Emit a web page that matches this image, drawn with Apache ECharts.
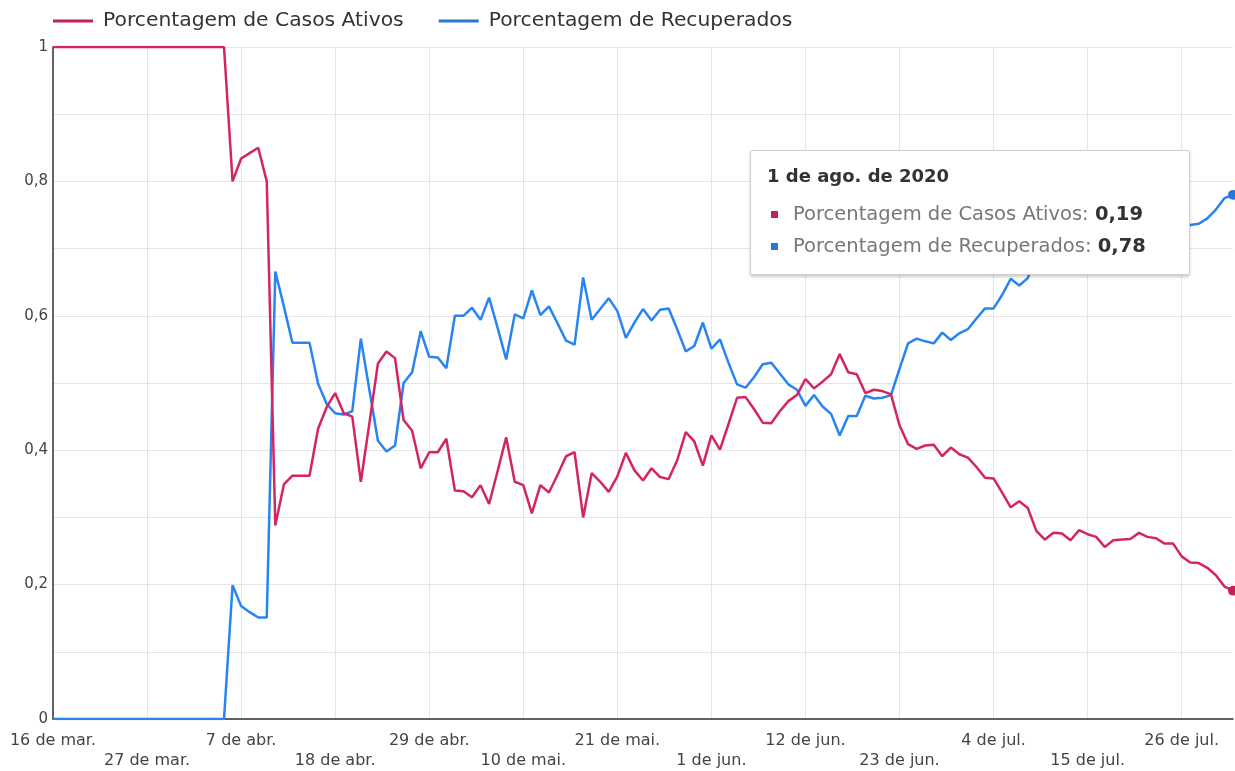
<!DOCTYPE html>
<html>
<head>
<meta charset="utf-8">
<script src="https://cdn.jsdelivr.net/npm/echarts@6/dist/echarts.min.js"></script>
<style>
  html, body { margin: 0; padding: 0; background: #fff; }
  #chart { width: 1235px; height: 771px; }
</style>
</head>
<body>
<div id="chart"></div>
<script>
// categorias: dias de 16 de mar. a 1 de ago. de 2020
const startDay = 16;
const monthNames = ['mar.', 'abr.', 'mai.', 'jun.', 'jul.', 'ago.'];
const monthDays = [31, 30, 31, 30, 31, 31];
const dayCount = 139;

const categories = [];
let m = 0, d = startDay;
for (let i = 0; i < dayCount; i++) {
    categories.push(d + ' de ' + monthNames[m]);
    d++;
    if (d > monthDays[m]) { d = 1; m++; }
}

const seriesNames = ['Porcentagem de Casos Ativos', 'Porcentagem de Recuperados'];
const seriesColors = ['#C2215B', '#2478DC'];

const ativos = [
    1, 1, 1, 1, 1, 1, 1, 1, 1, 1, 1, 1, 1, 1, 1, 1, 1, 1, 1, 1, 1,
    0.80, 0.834, 0.842, 0.85, 0.80, 0.288, 0.349, 0.362, 0.362, 0.362,
    0.432, 0.464, 0.485, 0.455, 0.45, 0.353, 0.44, 0.529, 0.547, 0.537,
    0.445, 0.429, 0.373, 0.397, 0.397, 0.417, 0.340, 0.339, 0.330, 0.348,
    0.320, 0.369, 0.419, 0.353, 0.348, 0.306, 0.348, 0.337, 0.363, 0.391,
    0.397, 0.300, 0.366, 0.353, 0.338, 0.361, 0.396, 0.37,
    0.355, 0.373, 0.360, 0.357, 0.385, 0.427, 0.413, 0.377, 0.422, 0.401,
    0.439, 0.478, 0.479, 0.461, 0.441, 0.440, 0.458, 0.473, 0.482, 0.506,
    0.492, 0.502, 0.513, 0.543, 0.516, 0.513, 0.485, 0.490, 0.488, 0.483, 0.437,
    0.409, 0.402, 0.407, 0.408, 0.391, 0.404, 0.394, 0.389, 0.375, 0.359,
    0.358, 0.337, 0.315, 0.324, 0.314, 0.280, 0.267, 0.277, 0.276, 0.266,
    0.281, 0.275, 0.271, 0.256, 0.266, 0.267, 0.268, 0.277, 0.271, 0.269,
    0.261, 0.261, 0.242, 0.233, 0.232, 0.225, 0.214, 0.197, 0.191
];

const recuperados = [
    0, 0, 0, 0, 0, 0, 0, 0, 0, 0, 0, 0, 0, 0, 0, 0, 0, 0, 0, 0, 0,
    0.199, 0.168, 0.159, 0.151, 0.151, 0.666, 0.614, 0.560, 0.560, 0.560,
    0.499, 0.469, 0.455, 0.453, 0.458, 0.566, 0.49, 0.414, 0.398, 0.407,
    0.50, 0.516, 0.577, 0.539, 0.538, 0.522, 0.600, 0.600, 0.612, 0.594,
    0.627, 0.582, 0.535, 0.602, 0.596, 0.638, 0.601, 0.614, 0.589, 0.563,
    0.557, 0.657, 0.594, 0.610, 0.626, 0.607, 0.567, 0.59,
    0.610, 0.593, 0.609, 0.611, 0.580, 0.547, 0.555, 0.590, 0.551, 0.565,
    0.530, 0.498, 0.493, 0.509, 0.528, 0.530, 0.514, 0.498, 0.490, 0.466,
    0.482, 0.465, 0.454, 0.422, 0.451, 0.451, 0.481, 0.477, 0.478, 0.482, 0.521,
    0.559, 0.566, 0.562, 0.559, 0.575, 0.564, 0.574, 0.580, 0.596, 0.611,
    0.611, 0.631, 0.655, 0.645, 0.656, 0.690, 0.703, 0.693, 0.694, 0.704,
    0.689, 0.695, 0.699, 0.714, 0.704, 0.703, 0.702, 0.693, 0.699, 0.701,
    0.709, 0.709, 0.728, 0.735, 0.737, 0.745, 0.758, 0.775, 0.78
];

const yTicks = [0, 0.2, 0.4, 0.6, 0.8, 1];

const fontFamily = '"DejaVu Sans", "Noto Sans", sans-serif';
const comma = v => String(v).replace('.', ',');

const chartDom = document.getElementById('chart');
const myChart = echarts.init(chartDom);

const option = {
    animation: false,
    textStyle: { fontFamily: fontFamily },
    legend: {
        left: 53,
        top: 11,
        padding: 0,
        icon: 'rect',
        itemWidth: 40,
        itemHeight: 3,
        itemGap: 35,
        textStyle: { fontSize: 20.3, color: '#333', fontFamily: fontFamily, padding: [0, 0, 0, 5] },
        data: seriesNames
    },
    grid: { left: 53, right: 2, top: 47, bottom: 47 },
    tooltip: {
        trigger: 'axis',
        triggerOn: 'none',
        alwaysShowContent: true,
        position: [750, 150],
        axisPointer: { type: 'line', lineStyle: { color: 'rgba(0,0,0,0)' } },
        backgroundColor: '#fff',
        borderColor: '#cfcfcf',
        borderWidth: 1,
        padding: [13, 16, 12, 16],
        extraCssText: 'border-radius:2px;box-shadow:0 2px 3px rgba(0,0,0,0.2);width:406px;',
        formatter: function (params) {
            let html = '<div style="font-family:' + fontFamily.replace(/"/g, "'") + ';">';
            html += '<div style="font-weight:bold;font-size:18px;color:#333;line-height:24px;margin-bottom:10px;">' +
                params[0].axisValue + ' de 2020</div>';
            params.forEach(function (p) {
                html += '<div style="font-size:19.5px;line-height:32px;color:#777;white-space:nowrap;">' +
                    '<span style="display:inline-block;width:7px;height:7px;background:' + p.color +
                    ';margin:0 15px 0 4px;vertical-align:middle;"></span>' +
                    p.seriesName + ': <b style="color:#333;">' + comma(p.value.toFixed(2)) + '</b></div>';
            });
            html += '</div>';
            return html;
        }
    },
    xAxis: {
        type: 'category',
        boundaryGap: false,
        data: categories,
        axisLine: { lineStyle: { color: '#333', width: 1.5 } },
        axisTick: { show: false },
        axisLabel: {
            interval: 10,
            color: '#444',
            fontSize: 16,
            lineHeight: 20,
            margin: 12,
            formatter: function (value, index) {
                return (index / 11) % 2 === 1 ? '\n' + value : value;
            }
        },
        splitLine: { show: true, interval: 10, lineStyle: { color: '#e5e5e5' } }
    },
    yAxis: {
        type: 'value',
        min: yTicks[0],
        max: yTicks[yTicks.length - 1],
        interval: 0.2,
        axisLine: { show: true, lineStyle: { color: '#333', width: 1.5 } },
        axisTick: { show: false },
        axisLabel: {
            color: '#444',
            fontSize: 15,
            margin: 5,
            formatter: v => comma(+v.toFixed(1))
        },
        splitLine: { lineStyle: { color: '#e5e5e5' } },
        minorTick: { show: false, splitNumber: 2 },
        minorSplitLine: { show: true, lineStyle: { color: '#e5e5e5' } }
    },
    series: [
        {
            name: seriesNames[0],
            type: 'line',
            data: ativos,
            color: seriesColors[0],
            showSymbol: false,
            symbol: 'circle',
            symbolSize: 9,
            lineStyle: { width: 2.5 },
            z: 3
        },
        {
            name: seriesNames[1],
            type: 'line',
            data: recuperados,
            color: seriesColors[1],
            showSymbol: false,
            symbol: 'circle',
            symbolSize: 9,
            lineStyle: { width: 2.5 },
            z: 2
        }
    ]
};

option && myChart.setOption(option);
myChart.dispatchAction({ type: 'showTip', seriesIndex: 0, dataIndex: dayCount - 1 });
</script>
</body>
</html>
